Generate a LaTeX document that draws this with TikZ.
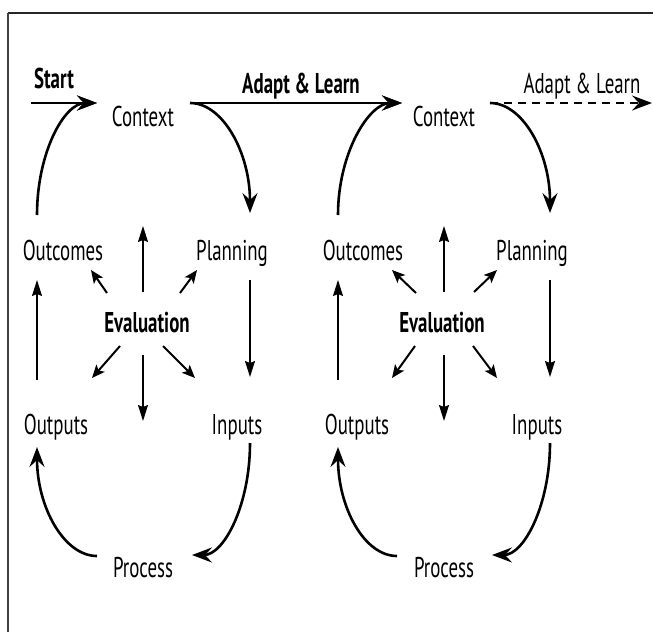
\documentclass[tikz,border=0pt]{standalone}
\usepackage{fontspec}
\setmainfont{PT Sans}[FakeStretch=0.66]
\usetikzlibrary{arrows.meta}
\tikzset{
  lbl/.style={inner sep=0pt, anchor=base, font=\fontsize{14.3}{16}\selectfont},
  boldlbl/.style={lbl, font=\fontsize{14.3}{16}\selectfont\bfseries},
  bigarrow/.style={line width=1.3pt, -{Stealth[length=10pt, width=7.5pt, inset=3.5pt]}},
  thinarrow/.style={line width=0.65pt, -{Stealth[length=8pt, width=5pt, inset=1pt]}},
  evalarrow/.style={line width=1pt, -{Stealth[length=6.5pt, width=5.5pt, inset=1.5pt]}}
}

\begin{document}
\begin{tikzpicture}[x=0.5pt, y=-0.5pt]
\useasboundingbox (0,0) rectangle (653,632);

% Frame
\draw[line width=1.4pt, black!85] (653,13) -- (8,13);
\draw[line width=1pt, black!75] (8,13) -- (8,632);

% First cycle
\node[lbl] (ctx1) at (143,126) {Context};
\node[lbl] (plan1) at (232,260) {Planning};
\node[lbl] (inp1) at (237,434) {Inputs};
\node[lbl] (proc1) at (143,577) {Process};
\node[lbl] (outp1) at (56,434) {Outputs};
\node[lbl] (outc1) at (63,260) {Outcomes};
\node[boldlbl] (eval1) at (147,332) {Evaluation};

% Second cycle
\node[lbl] (ctx2) at (444,126) {Context};
\node[lbl] (plan2) at (532,260) {Planning};
\node[lbl] (inp2) at (537,434) {Inputs};
\node[lbl] (proc2) at (444,577) {Process};
\node[lbl] (outp2) at (357,434) {Outputs};
\node[lbl] (outc2) at (363,260) {Outcomes};
\node[boldlbl] (eval2) at (442,332) {Evaluation};

% Start and Adapt & Learn
\node[boldlbl] (start) at (54,88) {Start};
\node[boldlbl] (adapt1) at (301,93) {Adapt \& Learn};
\node[lbl] (adapt2) at (582,93) {Adapt \& Learn};
\coordinate (start1) at (31,103);
\coordinate (end2) at (652,103);

% Arrows around the first cycle
\draw[bigarrow] (start1) -- ([shift={(-46,-23)}]ctx1.base);
\draw[bigarrow] ([shift={(-26,-45)}]outc1.base) .. controls +(0,-62) and +(-33,0) .. ([shift={(-46,-23)}]ctx1.base);
\draw[bigarrow] ([shift={(47,-23)}]ctx1.base) .. controls +(33,0) and +(0,-60) .. ([shift={(18,-47)}]plan1.base);
\draw[thinarrow] ([shift={(18,20)}]plan1.base) -- ([shift={(13,-57)}]inp1.base);
\draw[bigarrow] ([shift={(13,9)}]inp1.base) .. controls +(0,62) and +(32,0) .. ([shift={(49,-22)}]proc1.base);
\draw[bigarrow] ([shift={(-46,-21)}]proc1.base) .. controls +(-33,0) and +(0,60) .. ([shift={(-19,13)}]outp1.base);
\draw[thinarrow] ([shift={(-19,-54)}]outp1.base) -- ([shift={(-26,20)}]outc1.base);

% Evaluation arrows, first cycle
\draw[thinarrow] ([shift={(-4,-40)}]eval1.base) -- ([shift={(-4,-106)}]eval1.base);
\draw[evalarrow] ([shift={(-40,-39)}]eval1.base) -- ([shift={(28,10)}]outc1.base);
\draw[evalarrow] ([shift={(33,-39)}]eval1.base) -- ([shift={(-35,10)}]plan1.base);
\draw[evalarrow] ([shift={(-27,14)}]eval1.base) -- ([shift={(36,-56)}]outp1.base);
\draw[evalarrow] ([shift={(16,14)}]eval1.base) -- ([shift={(-42,-56)}]inp1.base);
\draw[thinarrow] ([shift={(-4,23)}]eval1.base) -- ([shift={(-4,89)}]eval1.base);

% Adapt & Learn between the cycles
\draw[bigarrow] ([shift={(47,-23)}]ctx1.base) -- ([shift={(-42,-23)}]ctx2.base);

% Arrows around the second cycle
\draw[bigarrow] ([shift={(-25,-45)}]outc2.base) .. controls +(0,-62) and +(-33,0) .. ([shift={(-42,-23)}]ctx2.base);
\draw[bigarrow] ([shift={(46,-23)}]ctx2.base) .. controls +(33,0) and +(0,-60) .. ([shift={(18,-47)}]plan2.base);
\draw[thinarrow] ([shift={(18,20)}]plan2.base) -- ([shift={(13,-57)}]inp2.base);
\draw[bigarrow] ([shift={(13,9)}]inp2.base) .. controls +(0,62) and +(32,0) .. ([shift={(48,-22)}]proc2.base);
\draw[bigarrow] ([shift={(-47,-21)}]proc2.base) .. controls +(-33,0) and +(0,60) .. ([shift={(-19,13)}]outp2.base);
\draw[thinarrow] ([shift={(-19,-54)}]outp2.base) -- ([shift={(-25,20)}]outc2.base);

% Evaluation arrows, second cycle
\draw[thinarrow] ([shift={(2,-40)}]eval2.base) -- ([shift={(2,-106)}]eval2.base);
\draw[evalarrow] ([shift={(-26,-39)}]eval2.base) -- ([shift={(29,10)}]outc2.base);
\draw[evalarrow] ([shift={(32,-40)}]eval2.base) -- ([shift={(-35,10)}]plan2.base);
\draw[evalarrow] ([shift={(-27,14)}]eval2.base) -- ([shift={(35,-56)}]outp2.base);
\draw[evalarrow] ([shift={(31,14)}]eval2.base) -- ([shift={(-40,-56)}]inp2.base);
\draw[thinarrow] ([shift={(2,23)}]eval2.base) -- ([shift={(2,89)}]eval2.base);

% Dashed Adapt & Learn out of the picture
\draw[line width=1pt, dash pattern=on 4pt off 3pt, -{Stealth[length=10pt, width=7.5pt, inset=3.5pt]}] ([shift={(46,-23)}]ctx2.base) -- (end2);

\end{tikzpicture}
\end{document}
